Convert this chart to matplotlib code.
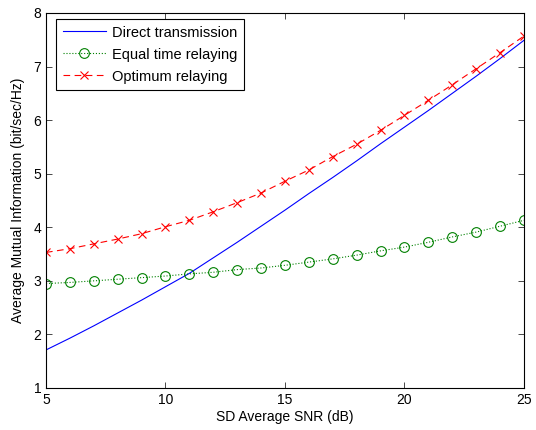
import numpy as np
import matplotlib
matplotlib.use('Agg')
import matplotlib.pyplot as plt

# ----------------------------
# Data
# ----------------------------
snr_db = [5, 6, 7, 8, 9, 10, 11, 12, 13, 14, 15, 16, 17, 18, 19, 20, 21, 22, 23, 24, 25]

direct = [1.71, 1.93, 2.16, 2.40, 2.64, 2.89, 3.14, 3.43, 3.72, 4.02, 4.32,
          4.63, 4.93, 5.24, 5.56, 5.87, 6.18, 6.50, 6.82, 7.15, 7.49]
equal_time = [2.95, 2.97, 3.00, 3.03, 3.06, 3.09, 3.13, 3.16, 3.21, 3.24, 3.29,
              3.35, 3.41, 3.48, 3.56, 3.63, 3.72, 3.82, 3.91, 4.02, 4.13]
optimum = [3.53, 3.60, 3.69, 3.78, 3.88, 4.01, 4.13, 4.29, 4.46, 4.64, 4.86,
           5.07, 5.32, 5.55, 5.81, 6.09, 6.37, 6.66, 6.96, 7.26, 7.57]

plt.rcParams['font.family'] = ['Liberation Sans', 'DejaVu Sans']
plt.rcParams['font.size'] = 10

fig = plt.figure(figsize=(5.36, 4.30), dpi=100)
ax = fig.add_axes([0.0858, 0.0977, 0.8918, 0.8721])

ax.plot(snr_db, direct, color='#0000ff', linewidth=0.8, label='Direct transmission')
ax.plot(snr_db, equal_time, color='#008000', linestyle=':', linewidth=0.8,
        marker='o', markersize=7, markerfacecolor='none', markeredgewidth=0.8,
        label='Equal time relaying')
ax.plot(snr_db, optimum, color='#ff0000', linestyle=(0, (6, 4)), linewidth=0.8,
        marker='x', markersize=6, markeredgewidth=0.8, label='Optimum relaying')

ax.set_xlim(5, 25)
ax.set_ylim(1, 8)
ax.set_xticks([5, 10, 15, 20, 25])
ax.set_yticks(range(1, 9))
ax.tick_params(direction='in', top=True, right=True, length=4, width=0.5)
for s in ax.spines.values():
    s.set_linewidth(0.8)

ax.set_xlabel('SD Average SNR (dB)', labelpad=2)
ax.set_ylabel('Average Mutual Information (bit/sec/Hz)', labelpad=6)

leg = ax.legend(loc='upper left', bbox_to_anchor=(0.021, 0.984), borderaxespad=0,
                fancybox=False, framealpha=1, edgecolor='black',
                prop={'size': 10.5}, handlelength=3.0, labelspacing=0.55,
                borderpad=0.45, handletextpad=0.4)
leg.get_frame().set_linewidth(0.8)

plt.savefig('out.png', dpi=100)
